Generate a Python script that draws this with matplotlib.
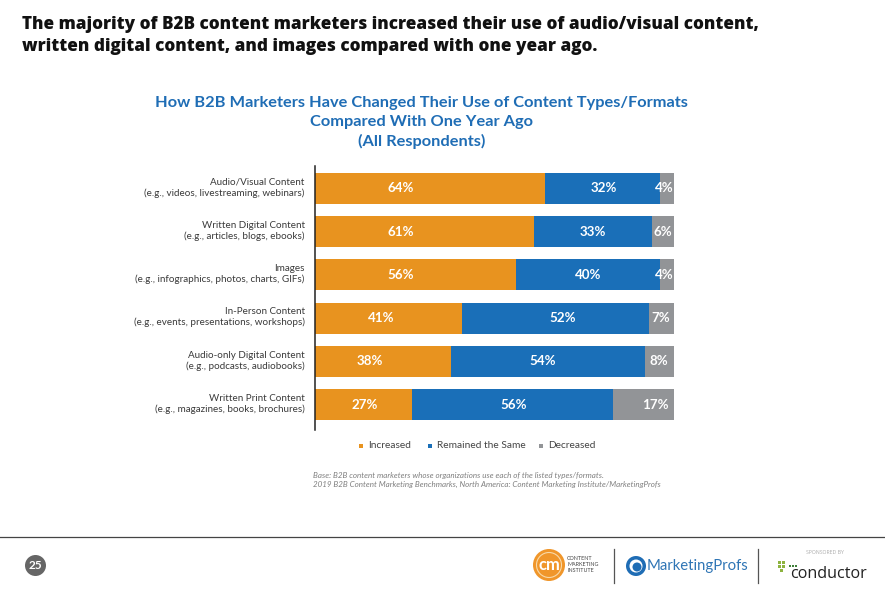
import matplotlib
matplotlib.use('Agg')
import matplotlib.pyplot as plt
from matplotlib.patches import Circle, Rectangle
from matplotlib.transforms import ScaledTranslation

W, H = 885, 593

categories = ['Audio/Visual Content\n(e.g., videos, livestreaming, webinars)',
              'Written Digital Content\n(e.g., articles, blogs, ebooks)',
              'Images\n(e.g., infographics, photos, charts, GIFs)',
              'In-Person Content\n(e.g., events, presentations, workshops)',
              'Audio-only Digital Content\n(e.g., podcasts, audiobooks)',
              'Written Print Content\n(e.g., magazines, books, brochures)']
increased = [64, 61, 56, 41, 38, 27]
remained = [32, 33, 40, 52, 54, 56]
decreased = [4, 6, 4, 7, 8, 17]
chart_title = ['How B2B Marketers Have Changed Their Use of Content Types/Formats',
               'Compared With One Year Ago',
               '(All Respondents)']

ORANGE = '#E8931F'
BLUE = '#1A6FB8'
GREY = '#929497'
TITLE_BLUE = '#1F6DB5'

# label positions are not centred on the bars in the original
inc_label_x = [24, 24, 24, 18.5, 15.5, 14]
rem_label_x = [80.5, 77.5, 76, 69, 63.5, 55.5]
dec_label_x = [97.3, 96.9, 97.3, 96.3, 95.8, 94.7]

fig = plt.figure(figsize=(W / 100, H / 100), dpi=100)
plt.rcParams['font.family'] = ['Lato', 'DejaVu Sans']

# page layer in pixel coordinates, for everything that is not the chart
bg = fig.add_axes([0, 0, 1, 1])
bg.set_xlim(0, W)
bg.set_ylim(H, 0)
bg.axis('off')

bg.text(22, 35.5, 'The majority of B2B content marketers increased their use of audio/visual content,\n'
        'written digital content, and images compared with one year ago.',
        family='Open Sans', fontsize=12.35, fontweight=800, color='#111111',
        va='center', ha='left', linespacing=1.43)
for line, ty in zip(chart_title, (103, 122, 141)):
    bg.text(421.5, ty, line, fontsize=11.8, fontweight='bold', color=TITLE_BLUE, ha='center', va='center')

# chart axes: 0-100% on x, six rows on y
ax = fig.add_axes([314.5 / W, 1 - 430 / H, 359.5 / W, 264 / H])
y = range(len(categories))
ax.barh(y, increased, height=0.72, color=ORANGE)
ax.barh(y, remained, left=increased, height=0.72, color=BLUE)
ax.barh(y, decreased, left=[a + b for a, b in zip(increased, remained)], height=0.72, color=GREY)
ax.set_xlim(0, 100)
ax.set_ylim(5.59, -0.52)
ax.set_yticks(list(y))
ax.set_yticklabels(categories, fontsize=7.1, color='#3A3A3A', linespacing=1.2)
ax.tick_params(axis='y', length=0, pad=7)
# the row labels sit a little above the bar centres
up = ScaledTranslation(0, 2.5 / 100, fig.dpi_scale_trans)
for lab in ax.get_yticklabels():
    lab.set_transform(lab.get_transform() + up)
ax.set_xticks([])
for s in ['top', 'right', 'bottom']:
    ax.spines[s].set_visible(False)
ax.spines['left'].set_color('#222222')
ax.spines['left'].set_linewidth(1.1)

for i in y:
    for lx, v in zip((inc_label_x[i], rem_label_x[i], dec_label_x[i]),
                     (increased[i], remained[i], decreased[i])):
        ax.text(lx, i, f'{v}%', color='white', fontsize=9.6, fontweight='bold', ha='center', va='center')

# legend
for x, c, t in [(361, ORANGE, 'Increased'), (430, BLUE, 'Remained the Same'), (541, GREY, 'Decreased')]:
    bg.add_patch(Rectangle((x - 2, 443.5), 4, 4, color=c, lw=0))
    bg.text(x + 7, 445.5, t, fontsize=7.3, color='#444444', va='center', ha='left')

bg.text(313, 480, 'Base: B2B content marketers whose organizations use each of the listed types/formats.\n'
        '2019 B2B Content Marketing Benchmarks, North America: Content Marketing Institute/MarketingProfs',
        fontsize=5.8, style='italic', color='#7F7F7F', va='center', ha='left', linespacing=1.3)

# footer
bg.plot([0, W], [537, 537], color='#444444', lw=0.9)
bg.add_patch(Circle((35.5, 565.5), 10.5, color='#666666', lw=0))
bg.text(35.5, 565.5, '25', color='white', fontsize=8.5, fontweight='bold', ha='center', va='center')

bg.add_patch(Circle((549, 565), 16, color='#F0962A', lw=0))
bg.add_patch(Circle((549, 565), 12.5, fill=False, ec='#F8D9A8', lw=0.8))
bg.text(549, 565, 'cm', color='white', fontsize=12, fontweight='bold', ha='center', va='center')
bg.text(567, 564.5, 'CONTENT\nMARKETING\nINSTITUTE', fontsize=3.9, color='#444444', va='center', ha='left', linespacing=1.15)
bg.plot([613.5, 613.5], [549, 583], color='#555555', lw=0.9)

bg.add_patch(Circle((636, 566), 10, color='#1F6DB5', lw=0))
bg.add_patch(Circle((636, 566), 6.5, color='white', lw=0))
bg.add_patch(Circle((637, 567), 4.5, color='#1F6DB5', lw=0))
bg.text(647, 566, 'MarketingProfs', fontsize=10.7, color='#2F75B5', va='center', ha='left')
bg.plot([758, 758], [549, 583], color='#555555', lw=0.9)

bg.text(825, 553, 'SPONSORED BY', family='Open Sans', fontsize=3.7, color='#AAAAAA', ha='center', va='center')
for px, py in [(779, 562), (783, 562), (779, 566), (783, 566), (781, 570)]:
    bg.add_patch(Rectangle((px - 1.5, py - 1.5), 3, 3, color='#8DB33F', lw=0))
for px in (790, 793, 796):
    bg.add_patch(Rectangle((px - 1, 565), 2, 2, color='#3F7F3A', lw=0))
bg.text(790, 573.5, 'conductor', family='Open Sans', fontsize=11.6, color='#222222', va='center', ha='left')

fig.savefig('out.png', dpi=100)
